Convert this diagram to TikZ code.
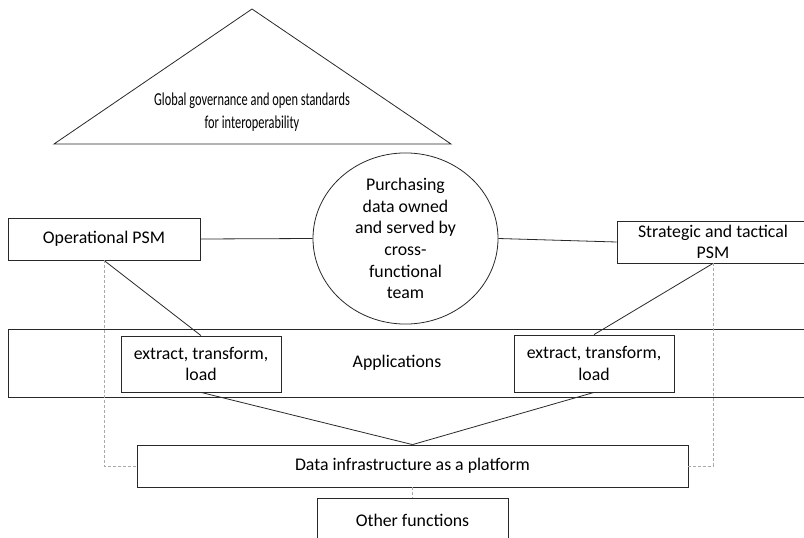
\documentclass[tikz,border=0pt]{standalone}
\usepackage{fontspec}
\setmainfont{Carlito}
\newfontfamily\narrowfont{Carlito}[FakeStretch=0.68]
\usepackage{tikz}
\usetikzlibrary{shapes.geometric}
\definecolor{edge}{RGB}{40, 40, 40}
\definecolor{link}{RGB}{170, 170, 170}
\tikzset{
  box/.style={draw=edge, line width=0.8pt, align=center, inner sep=0pt},
  wire/.style={edge, line width=0.8pt},
  dashwire/.style={link, line width=0.8pt, dash pattern=on 3pt off 2pt}
}

\begin{document}
\begin{tikzpicture}[x=1pt, y=-1pt, font=\fontsize{17.8}{21.7}\selectfont]
\useasboundingbox (0,0) rectangle (804,538);
\clip (0,0) rectangle (804,538);

% governance roof
\draw [wire] (54,144) -- (252,9) -- (451,144) -- cycle;
\node (gov) at (252,112) [align=center, font=\fontsize{18.2}{22.5}\selectfont\narrowfont]
  {Global governance and open standards\\for interoperability};

% purchasing team in the middle
\node (team) at (405.5,238.5) [box, ellipse, minimum width=185, minimum height=167]
  {Purchasing\\data owned\\and served by\\cross-\\functional\\team};

\node (op) at (104,239) [box, minimum width=192, minimum height=42] {Operational PSM};
\node (strat) at (713,242) [box, minimum width=192, minimum height=42]
  {Strategic and tactical\\PSM};

% applications layer
\draw [wire] (8,329) rectangle (820,397);
\node (apps) at (397,363) {Applications};
\node (etl1) at (201,364) [box, minimum width=160, minimum height=56] {extract, transform,\\load};
\node (etl2) at (594,363.5) [box, minimum width=160, minimum height=57] {extract, transform,\\load};

\node (infra) at (412.5,466) [box, minimum width=551, minimum height=42] {Data infrastructure as a platform};
\node (other) at (412.5,520) [box, minimum width=191, minimum height=44] {Other functions};

\draw [wire] (op.east) -- (team.west);
\draw [wire] (team.east) -- (strat.west);
\draw [wire] (op.south) -- (etl1.north);
\draw [wire] (strat.south) -- (etl2.north);
\draw [wire] (etl1.south) -- (infra.north);
\draw [wire] (etl2.south) -- (infra.north);

\draw [dashwire] (op.south) |- (infra.west);
\draw [dashwire] (strat.south) |- (infra.east);
\draw [dashwire] (infra.south) -- (other.north);
\end{tikzpicture}
\end{document}
